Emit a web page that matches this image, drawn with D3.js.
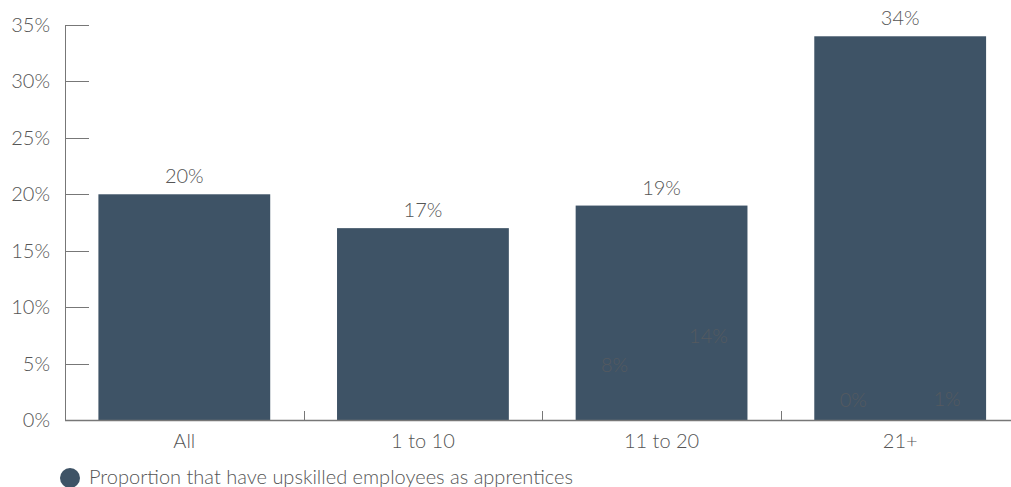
<!DOCTYPE html>
<html><head><meta charset="utf-8">
<script src="https://cdn.jsdelivr.net/npm/d3@7"></script>
<style>
body{margin:0;background:#fff;}
text{font-family:Lato,"Open Sans",sans-serif;font-weight:300;}
</style></head>
<body><svg id="c" width="1011" height="487"></svg>
<script>
const categories = ["All","1 to 10","11 to 20","21+"];
const values = [20,17,19,34];
const hiddenA = [null,null,8,0];
const hiddenB = [null,null,14,1];
const yTicks = [0,5,10,15,20,25,30,35];
const legendLabel = "Proportion that have upskilled employees as apprentices";

const svg = d3.select("#c");
const barColor = "#3e5366", textColor = "#555", axisColor = "#777";
const FS = 20;
const x = d3.scaleBand().domain(categories).range([65,1019.5]).paddingInner(0.28).paddingOuter(0.14);
const y = d3.scaleLinear().domain([0,35]).range([420,25]);
const sub = d3.scalePoint().domain(["a","b"]).range([0,x.bandwidth()]).padding(0.415);

// bars
svg.selectAll("rect.bar").data(values).join("rect")
  .attr("x",(d,i)=>x(categories[i])).attr("y",d=>y(d))
  .attr("width",x.bandwidth()).attr("height",d=>y(0)-y(d)).attr("fill",barColor);

// y axis
const yAxis = svg.append("g");
yAxis.append("line").attr("x1",65.5).attr("x2",65.5).attr("y1",y(35)).attr("y2",y(0)).attr("stroke",axisColor);
yAxis.selectAll("line.t").data(yTicks).join("line").attr("class","t")
  .attr("x1",65).attr("x2",89).attr("y1",d=>Math.round(y(d))+0.5).attr("y2",d=>Math.round(y(d))+0.5).attr("stroke",axisColor);
yAxis.selectAll("text").data(yTicks).join("text")
  .attr("x",50).attr("y",d=>y(d)+7).attr("text-anchor","end")
  .attr("font-size",FS).attr("fill",textColor).text(d=>d+"%");

// x axis
const xAxis = svg.append("g");
xAxis.append("line").attr("x1",65).attr("x2",1011).attr("y1",420.5).attr("y2",420.5).attr("stroke",axisColor).attr("stroke-width",1.5);
const bounds = categories.slice(1).map(c=>x(c)-x.step()*x.paddingInner()/2);
xAxis.selectAll("line.t").data(bounds).join("line").attr("class","t")
  .attr("x1",d=>Math.round(d)+0.5).attr("x2",d=>Math.round(d)+0.5).attr("y1",411).attr("y2",420).attr("stroke",axisColor);
xAxis.selectAll("text").data(categories).join("text")
  .attr("x",d=>x(d)+x.bandwidth()/2).attr("y",448).attr("text-anchor","middle")
  .attr("font-size",FS).attr("fill",textColor).text(d=>d);

// value labels
svg.selectAll("text.val").data(values).join("text").attr("class","val")
  .attr("x",(d,i)=>x(categories[i])+x.bandwidth()/2).attr("y",d=>y(d)-11)
  .attr("text-anchor","middle").attr("font-size",FS).attr("fill",textColor).text(d=>d+"%");

// faint hidden-series labels
function hidden(arr,key){
  svg.selectAll("text.h"+key).data(arr.map((v,i)=>({v,c:categories[i]})).filter(d=>d.v!==null)).join("text")
    .attr("class","h"+key)
    .attr("x",d=>x(d.c)+sub(key)).attr("y",d=>Math.min(y(d.v*0.43)-9,407))
    .attr("text-anchor","middle").attr("font-size",FS).attr("fill","#555a60").text(d=>d.v+"%");
}
hidden(hiddenA,"a"); hidden(hiddenB,"b");

// legend
svg.append("circle").attr("cx",70).attr("cy",478).attr("r",10).attr("fill",barColor);
svg.append("text").attr("x",89).attr("y",484).attr("font-size",FS).attr("fill",textColor).text(legendLabel);
</script></body></html>
